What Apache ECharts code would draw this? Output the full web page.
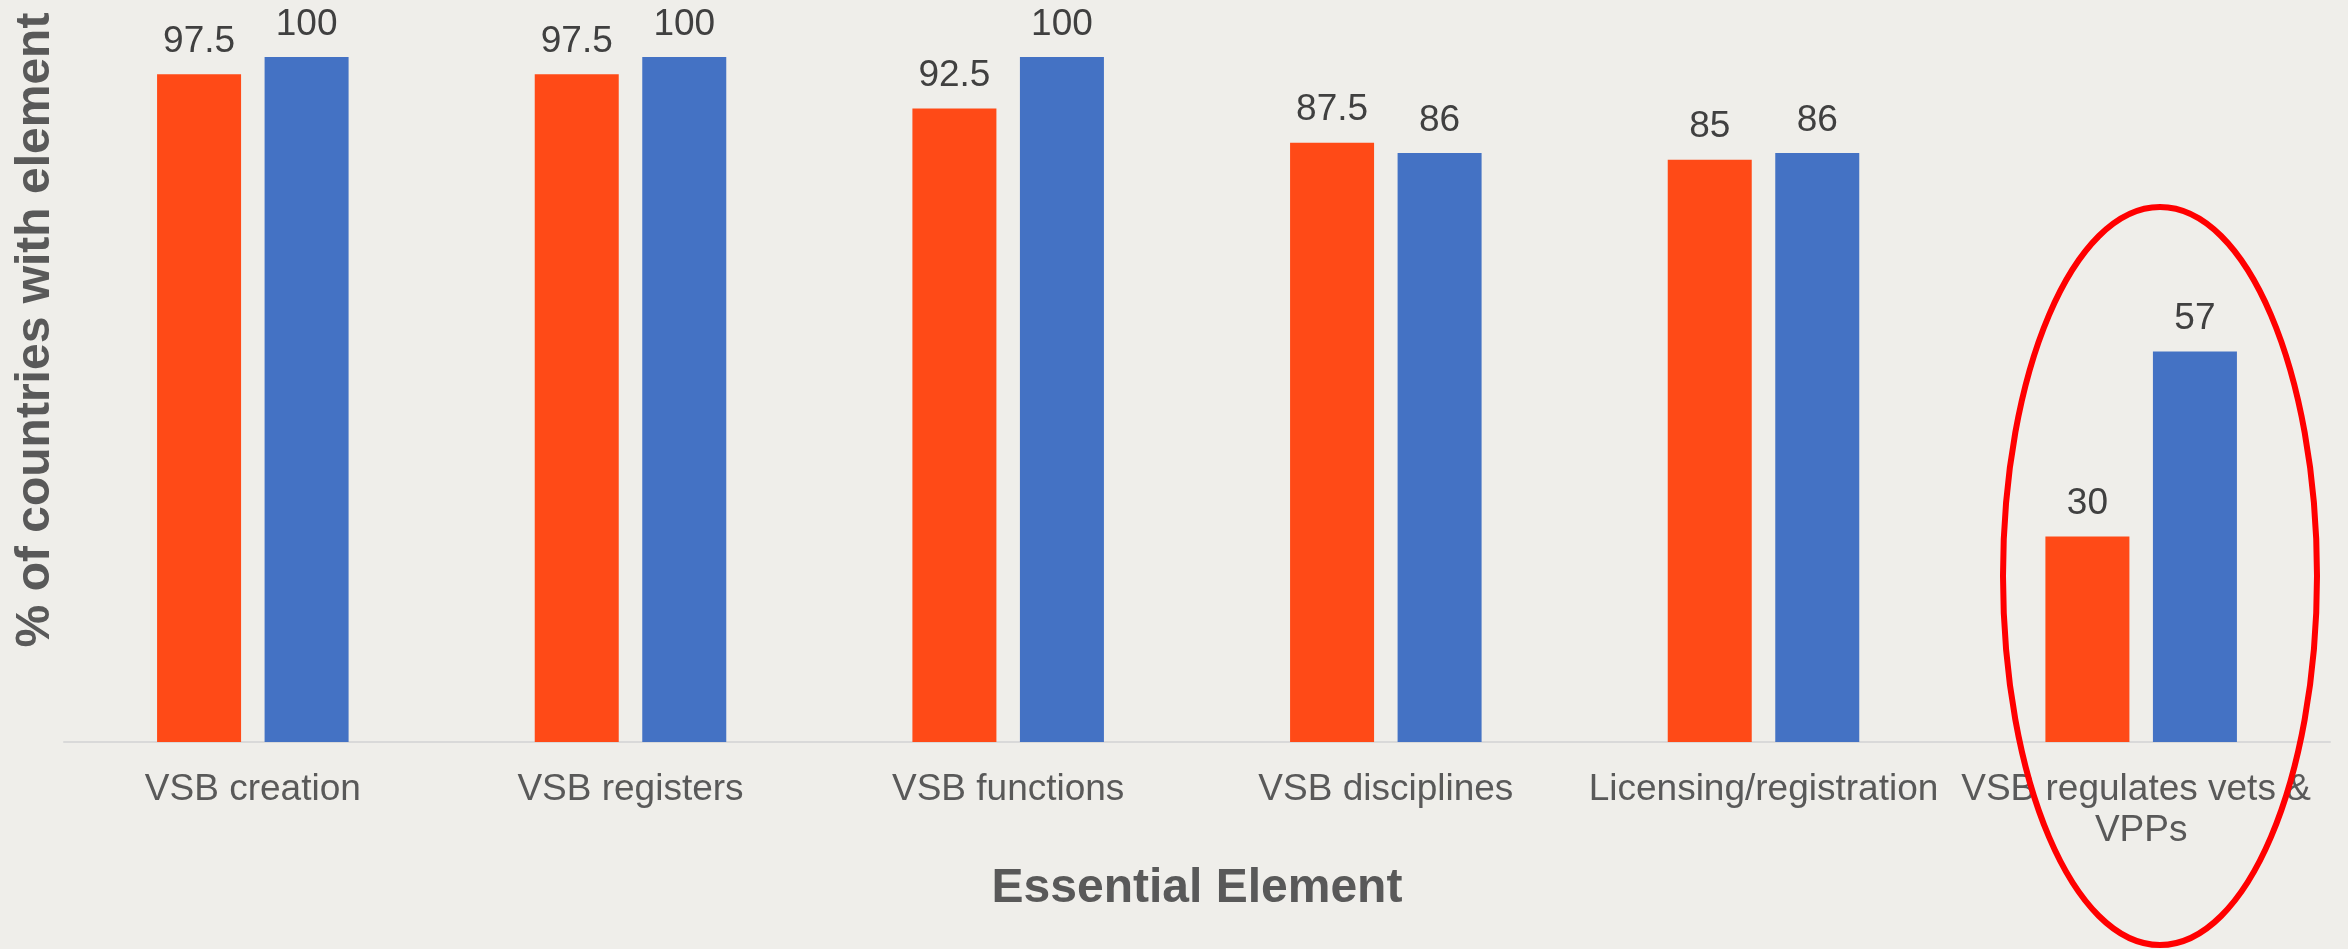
<!DOCTYPE html>
<html>
<head>
<meta charset="utf-8">
<script src="https://cdn.jsdelivr.net/npm/echarts@6/dist/echarts.min.js"></script>
<style>
  html, body { margin: 0; padding: 0; background: #EFEEEA; }
  #chart { width: 2348px; height: 949px; }
</style>
</head>
<body>
<div id="chart"></div>
<script>
const categories = ['VSB creation', 'VSB registers', 'VSB functions', 'VSB disciplines', 'Licensing/registration', 'VSB regulates vets & VPPs'];
const seriesA = [97.5, 97.5, 92.5, 87.5, 85, 30];
const seriesB = [100, 100, 100, 86, 86, 57];
const xTitle = 'Essential Element';
const yTitle = '% of countries with element';

const FONT = '"Liberation Sans", Arial, sans-serif';
const chart = echarts.init(document.getElementById('chart'));
const labelCfg = {
  show: true, position: 'top', distance: 14,
  color: '#404040', fontSize: 37, fontFamily: FONT, lineHeight: 37
};
chart.setOption({
  backgroundColor: '#EFEEEA',
  animation: false,
  grid: { left: 64, right: 18, top: 57, bottom: 207 },
  xAxis: {
    type: 'category',
    data: categories,
    axisLine: { lineStyle: { color: '#D9D9D9', width: 2 } },
    axisTick: { show: false },
    axisLabel: {
      color: '#595959', fontSize: 37, fontFamily: FONT, margin: 27,
      lineHeight: 41, width: 376, overflow: 'break', interval: 0
    },
    name: xTitle,
    nameLocation: 'middle',
    nameGap: 123,
    nameTextStyle: { color: '#595959', fontSize: 48, fontWeight: 'bold', fontFamily: FONT, lineHeight: 48 }
  },
  yAxis: {
    type: 'value', min: 0, max: 100,
    show: false,
    splitLine: { show: false }
  },
  series: [
    { type: 'bar', data: seriesA, barWidth: 84, barGap: '28%', itemStyle: { color: '#FF4A17' }, label: labelCfg },
    { type: 'bar', data: seriesB, barWidth: 84, itemStyle: { color: '#4472C4' }, label: labelCfg }
  ],
  graphic: [
    {
      type: 'text', x: 36, y: 330, rotation: Math.PI / 2,
      style: { text: yTitle, font: 'bold 48px ' + FONT, fill: '#595959', align: 'center', verticalAlign: 'middle' }
    },
    {
      type: 'ellipse', shape: { cx: 2160, cy: 576, rx: 157, ry: 369 },
      style: { fill: 'none', stroke: '#FF0000', lineWidth: 6 }, z: 100
    }
  ]
});
</script>
</body>
</html>
